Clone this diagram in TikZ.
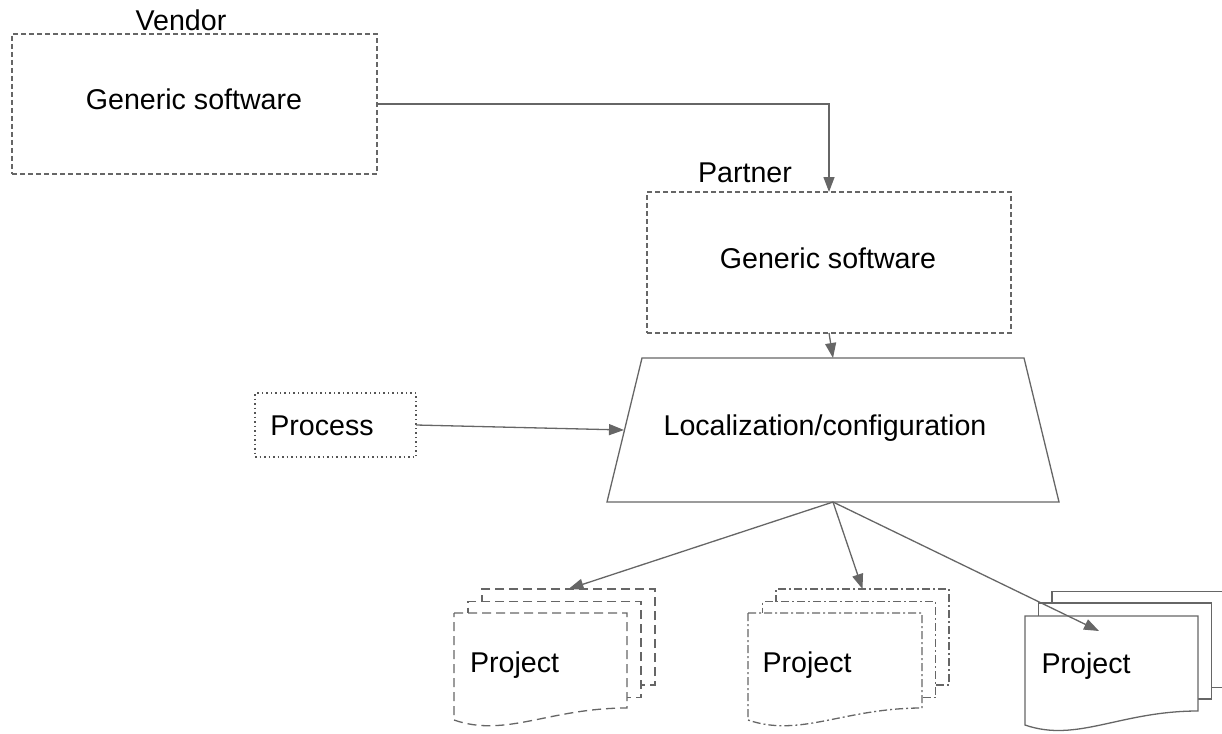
\documentclass[tikz,border=0pt]{standalone}
\usepackage{fontspec}
\setmainfont{Liberation Sans}
\usetikzlibrary{arrows.meta}
\definecolor{edge}{HTML}{666666}
\definecolor{dotedge}{HTML}{555555}
\tikzset{
  conn/.style={draw=edge, line width=1.3pt, -{Triangle[length=15pt,width=11pt]}},
  dashbox/.style={draw=edge, line width=1.3pt, dash pattern=on 5pt off 3pt,
    inner sep=0pt, outer sep=0pt},
  dotbox/.style={draw=dotedge, line width=1.5pt, dash pattern=on 1.5pt off 3pt,
    inner sep=0pt, outer sep=0pt},
  label/.style={anchor=base, inner sep=0pt, font=\fontsize{28.6}{34}\selectfont},
  sheet/.style={fill=white, line width=1.3pt, inner sep=0pt, outer sep=0pt,
    minimum width=173pt, minimum height=96pt},
  dashdoc/.style={draw=edge, dash pattern=on 9pt off 5pt},
  dotdashdoc/.style={draw=edge, dash pattern=on 8pt off 3pt on 2pt off 3pt},
  soliddoc/.style={draw=edge},
}
\begin{document}
\begin{tikzpicture}[x=1pt,y=-1pt]
\useasboundingbox (0,0) rectangle (1222,733);

% vendor
\node[dashbox, minimum width=365pt, minimum height=140pt] (vendor) at (194.5,104) {};
\node[label] (vendortitle) at (181,31) {Vendor};
\node[label] (vendortext) at (194,110) {Generic software};

% partner
\node[dashbox, minimum width=364pt, minimum height=141pt] (partner) at (829,262.5) {};
\node[label] (partnertitle) at (745,182) {Partner};
\node[label] (partnertext) at (828,268) {Generic software};

% localization step (trapezoid, wider at the bottom)
\draw[draw=edge, line width=1.3pt, line join=miter]
  (607,502) -- (642,358) -- (1024,358) -- (1059,502) -- cycle;
\coordinate (locN) at (833,358);
\coordinate (locS) at (833,502);
\coordinate (locW) at (624,430);
\node[label] (loctext) at (825,435) {Localization/configuration};

% process
\node[dotbox, minimum width=161pt, minimum height=64pt] (process) at (335.5,425) {};
\node[label] (processtext) at (322,435) {Process};

% project stack 1 (dashed)
\node[sheet, dashdoc] (p1back) at (568.5,637) {};
\node[sheet, dashdoc] (p1mid) at (554.5,649.5) {};
\draw[dashdoc, fill=white, line width=1.3pt] (454,613) -- (627,613) -- (627,708)
  .. controls (549,708) and (506,738) .. (454,720) -- cycle;
\node[label] (p1text) at (514.5,672) {Project};

% project stack 2 (dash-dot)
\node[sheet, dotdashdoc] (p2back) at (862.5,637) {};
\node[sheet, dotdashdoc] (p2mid) at (849,649.5) {};
\draw[dotdashdoc, fill=white, line width=1.3pt] (748,613) -- (922,613) -- (922,708)
  .. controls (844,708) and (800,738) .. (748,720) -- cycle;
\node[label] (p2text) at (807,672) {Project};

% project stack 3 (solid)
\node[sheet, soliddoc] (p3back) at (1138.5,639.5) {};
\node[sheet, soliddoc] (p3mid) at (1125,651) {};
\draw[soliddoc, fill=white, line width=1.3pt] (1025,616) -- (1198,616) -- (1198,711)
  .. controls (1120,711) and (1077,743) .. (1025,725) -- cycle;
\node[label] (p3text) at (1086,673) {Project};
\coordinate (p3tip) at (1099,631);

% connectors
\draw[conn] (vendor.east) -| (partner.north);
\draw[conn] (partner.south) -- (locN);
\draw[conn] (process.east) -- (locW);
\draw[conn] (locS) -- (p1back.north);
\draw[conn] (locS) -- (p2back.north);
\draw[conn] (locS) -- (p3tip);
\end{tikzpicture}
\end{document}
